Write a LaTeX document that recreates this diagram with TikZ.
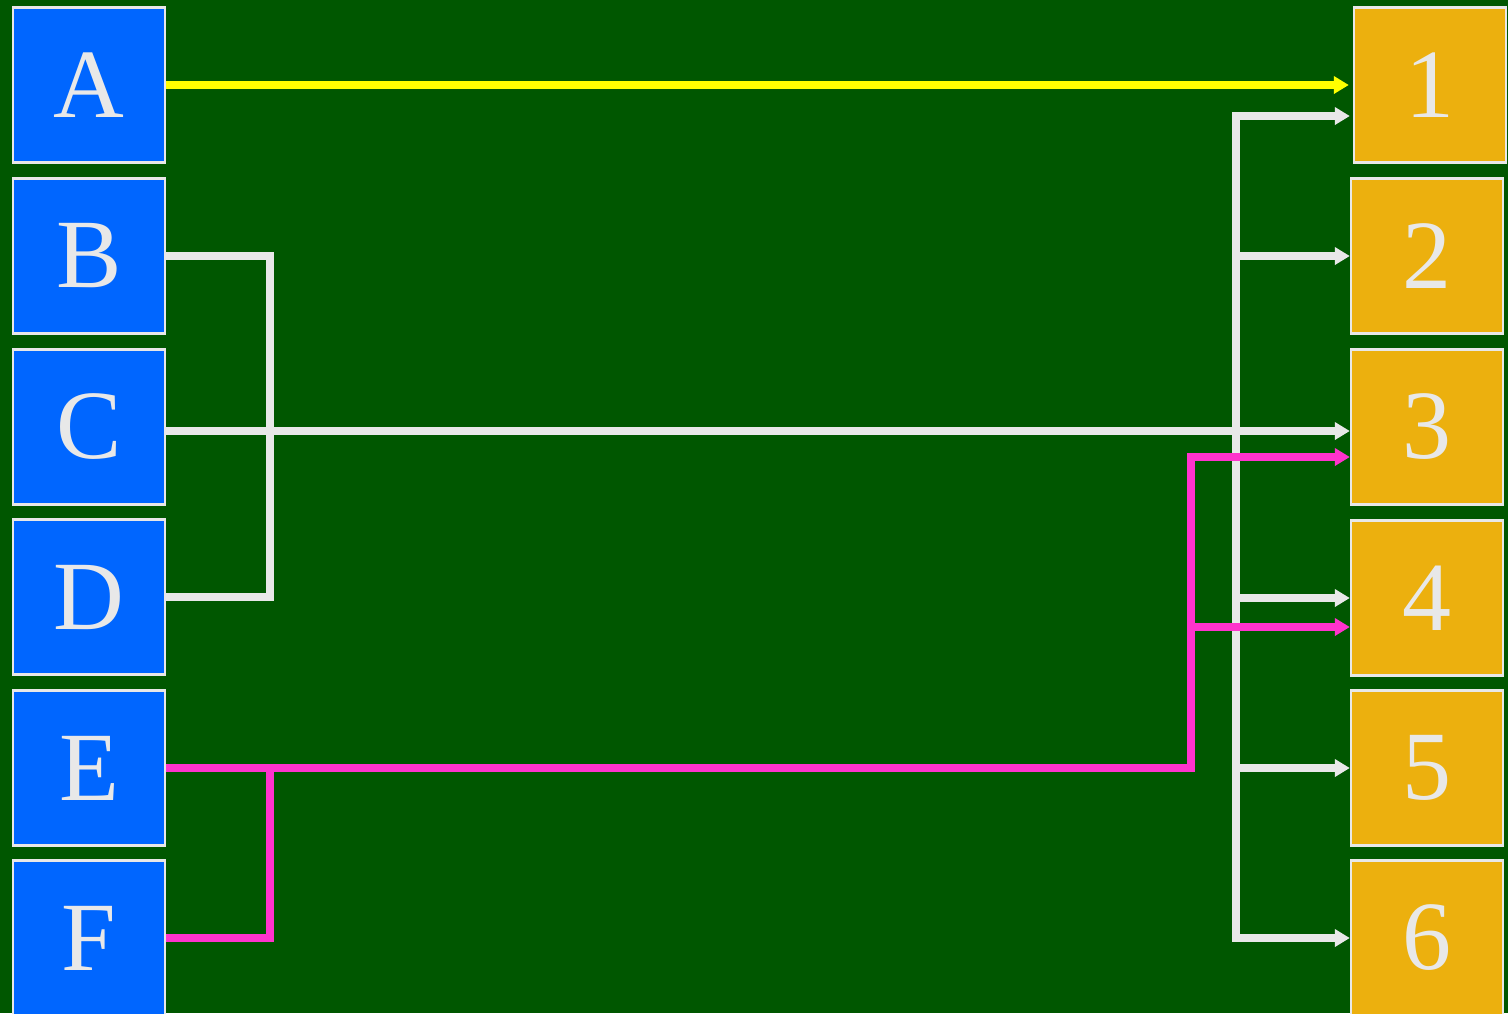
\documentclass[tikz,border=0pt]{standalone}
\usepackage{fontspec}
\setmainfont{Liberation Serif}
\usetikzlibrary{arrows.meta}
\definecolor{bg}{RGB}{0,87,0}
\definecolor{bluebox}{RGB}{0,102,255}
\definecolor{goldbox}{RGB}{236,176,14}
\definecolor{lgray}{RGB}{232,232,232}
\definecolor{mag}{RGB}{255,51,204}
\definecolor{yel}{RGB}{255,255,0}
\tikzset{
  box/.style={draw=lgray, line width=1.2pt, minimum width=76pt, minimum height=77.5pt,
    inner sep=0pt, text=lgray, font=\fontsize{49}{49}\selectfont},
  lbox/.style={box, fill=bluebox},
  rbox/.style={box, fill=goldbox},
  conn/.style={line width=4pt},
  tip/.style={-{Triangle[length=7.5pt,width=8.5pt]}},
  wl/.style={conn, draw=lgray},
  ml/.style={conn, draw=mag},
  yl/.style={conn, draw=yel}
}
\begin{document}
\begin{tikzpicture}[x=0.5pt,y=-0.5pt]
\fill[bg] (0,0) rectangle (1508,1013);
\useasboundingbox (0,0) rectangle (1508,1013);
% left boxes
\node[lbox] (A) at (89,85) {A};
\node[lbox] (B) at (89,256) {B};
\node[lbox] (C) at (89,427) {C};
\node[lbox] (D) at (89,597) {D};
\node[lbox] (E) at (89,768) {E};
\node[lbox] (F) at (89,938) {F};
% right boxes
\node[rbox] (n1) at (1430,85) {1};
\node[rbox] (n2) at (1427,256) {2};
\node[rbox] (n3) at (1427,427) {3};
\node[rbox] (n4) at (1427,598) {4};
\node[rbox] (n5) at (1427,768) {5};
\node[rbox] (n6) at (1427,938) {6};
% coordinates
\coordinate (bdx) at (270,0);
\coordinate (wt) at (1236,116);
\coordinate (wb) at (1236,938);
\coordinate (mx) at (1191,0);
\coordinate (m3) at (1191,457);
\coordinate (m4) at (1191,627);
\coordinate (fj) at (270,764);
\coordinate (cy) at (0,431);
% yellow A -> 1
\draw[yl, tip] (A.east) -- ([xshift=-2pt]A.east -| n1.west);
% white
\draw[wl] (B.east) -- (B.east -| bdx) |- (D.east);
\draw[wl, tip] (C.east |- cy) -- (n3.west |- cy);
\draw[wl, {Triangle[length=7.5pt,width=8.5pt]}-{Triangle[length=7.5pt,width=8.5pt]}]
  (wt -| n2.west) -- (wt) -- (wb) -- (wb -| n6.west);
\draw[wl, tip] (wt |- n2.west) -- (n2.west);
\draw[wl, tip] (wt |- n4.west) -- (n4.west);
\draw[wl, tip] (wt |- n5.west) -- (n5.west);
% magenta
\draw[ml, tip] (E.east) -- (E.east -| mx) -- (m3) -- (m3 -| n3.west);
\draw[ml, tip] (m4) -- (m4 -| n4.west);
\draw[ml] (F.east) -- (F.east -| bdx) -- (fj);
\end{tikzpicture}
\end{document}
